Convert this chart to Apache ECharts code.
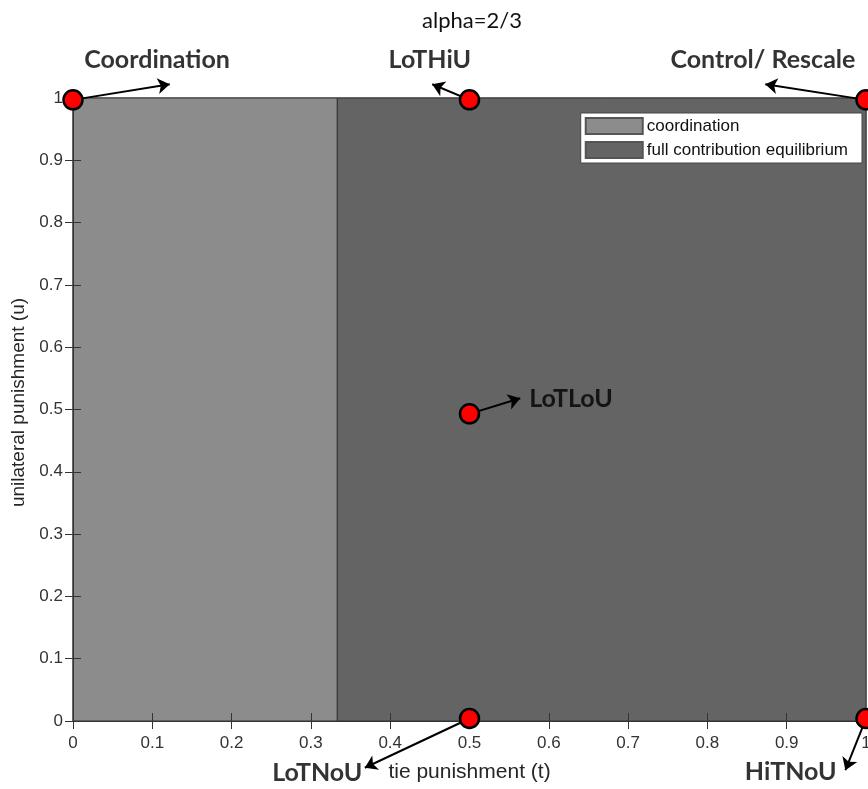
<!DOCTYPE html>
<html><head><meta charset="utf-8">
<script src="https://cdn.jsdelivr.net/npm/echarts@6/dist/echarts.min.js"></script>
<style>html,body{margin:0;padding:0;background:#fff}#c{width:868px;height:789px}</style>
</head><body><div id="c"></div>
<script>
// Regions (tie punishment intervals, full height u 0..1)
var regionNames = ['coordination', 'full contribution equilibrium'];
var regionStart = [0, 1/3];
var regionEnd = [1/3, 1];
var regionColors = ['#8c8c8c', '#646464'];

// Treatment points (t, u)
var pointNames = ['Coordination', 'LoTHiU', 'Control/ Rescale', 'LoTLoU', 'LoTNoU', 'HiTNoU'];
var pointT = [0, 0.5, 1, 0.5, 0.5, 1];
var pointU = [0.997, 0.997, 0.997, 0.493, 0.004, 0.004];
// Arrow heads (t, u)
var arrowT = [0.122, 0.453, 0.873, 0.564, 0.368, 0.974];
var arrowU = [1.022, 1.022, 1.022, 0.518, -0.075, -0.079];
// Label centres (t, u)
var labelT = [0.106, 0.450, 0.870, 0.628, 0.308, 0.905];
var labelU = [1.061, 1.061, 1.061, 0.517, -0.083, -0.082];

var chart = echarts.init(document.getElementById('c'));
var axisFont = {fontFamily:'Liberation Sans', fontSize:17, color:'#333'};

function regionSeries(i){
  return {
    name: regionNames[i], type:'custom', xAxisIndex:0, yAxisIndex:0,
    itemStyle:{color:regionColors[i], borderColor:'#555', borderWidth:1},
    data:[[regionStart[i], regionEnd[i]]],
    renderItem:function(params, api){
      var p0 = api.coord([api.value(0), 1]);
      var p1 = api.coord([api.value(1), 0]);
      return {type:'rect', shape:{x:p0[0], y:p0[1], width:p1[0]-p0[0], height:p1[1]-p0[1]},
        style:{fill:regionColors[i], stroke:'#333', lineWidth:1}};
    },
    z:1, silent:true
  };
}

var lineData = pointT.map(function(t,i){return {coords:[[t,pointU[i]],[arrowT[i],arrowU[i]]]};});
var labelData = labelT.map(function(t,i){return {value:[t,labelU[i]], name:pointNames[i]};});
var dotData = pointT.map(function(t,i){return [t,pointU[i]];});

function tickAxis(extra){
  return Object.assign({
    type:'value', min:0, max:1, interval:0.1, z:8,
    axisLine:{show:true, lineStyle:{color:'#333'}}, splitLine:{show:false},
    axisTick:{show:true, inside:true, length:8, lineStyle:{color:'#333'}}
  }, extra);
}

chart.setOption({
  animation:false,
  title:{text:'alpha=2/3', left:467, top:5, textAlign:'center',
    textStyle:{fontFamily:'Lato', fontWeight:'normal', fontSize:22, color:'#111'}},
  legend:{
    data:regionNames, orient:'vertical', right:6, top:113,
    backgroundColor:'#fff', borderColor:'#444', borderWidth:1, borderRadius:0,
    padding:[4,14,4,4], itemGap:6, itemWidth:57, itemHeight:16, icon:'rect',
    textStyle:{fontFamily:'Liberation Sans', fontSize:17, color:'#111', padding:[0,0,0,-1]}
  },
  grid:{left:73, right:2, top:98, bottom:68, show:true, borderColor:'#333', borderWidth:1,
    backgroundColor:'transparent', outerBoundsMode:'none', containLabel:false},
  xAxis:[tickAxis({position:'bottom',
    name:'tie punishment (t)', nameLocation:'middle', nameGap:41,
    nameTextStyle:{fontFamily:'Liberation Sans', fontSize:21, color:'#262626'},
    axisLabel:Object.assign({margin:14, formatter:function(v){return +v.toFixed(1)+'';}}, axisFont)
  }), tickAxis({position:'top', axisLabel:{show:false}})],
  yAxis:[tickAxis({position:'left',
    name:'unilateral punishment (u)', nameLocation:'middle', nameGap:41, nameRotate:90,
    nameTextStyle:{fontFamily:'Liberation Sans', fontSize:19, color:'#262626', padding:[0,0,0,14]},
    axisLabel:Object.assign({margin:10, formatter:function(v){return +v.toFixed(1)+'';}}, axisFont)
  }), tickAxis({position:'right', axisLabel:{show:false}})],
  series:[
    regionSeries(0), regionSeries(1),
    {type:'lines', coordinateSystem:'cartesian2d', xAxisIndex:0, yAxisIndex:0, clip:false, z:10,
     symbol:['none','arrow'], symbolSize:[0,12],
     lineStyle:{color:'#000', width:2, opacity:1}, data:lineData, silent:true},
    {type:'scatter', xAxisIndex:0, yAxisIndex:0, clip:false, z:12, symbolSize:19,
     itemStyle:{color:'#ff0000', borderColor:'#000', borderWidth:2.5, opacity:1}, data:dotData, silent:true},
    {type:'scatter', xAxisIndex:0, yAxisIndex:0, clip:false, z:12, symbolSize:0, data:labelData, silent:true,
     label:{show:true, position:'inside', formatter:'{b}', fontFamily:'Lato', fontWeight:'bold', fontSize:25, color:'#000'}}
  ]
});
</script></body></html>
